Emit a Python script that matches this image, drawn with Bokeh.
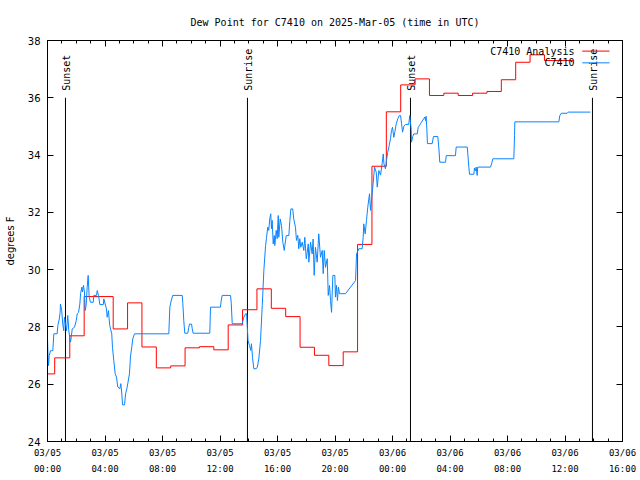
import numpy as np
import pandas as pd
from bokeh.plotting import figure
from bokeh.models import (DatetimeAxis, LinearAxis, FixedTicker, Range1d, Label,
                          DatetimeTickFormatter, ColumnDataSource, CustomJSTickFormatter)
from bokeh.core.properties import value
from bokeh.embed import file_html
from bokeh.resources import INLINE

START = pd.Timestamp("2025-03-05 00:00")
SPAN_HOURS = 40

# Analysis (hourly, step) -- hours since 2025-03-05 00:00 UTC
analysis_hours = [0.00, 0.50, 1.55, 2.55, 3.57, 4.57, 5.57, 6.57, 7.57, 8.57, 9.57, 10.57,
                  11.57, 12.57, 13.57, 14.57, 15.57, 16.57, 17.57, 18.57, 19.57, 20.57, 21.57,
                  22.57, 23.57, 24.57, 25.57, 26.57, 27.57, 28.57, 29.57, 30.57, 31.57, 32.57,
                  33.57, 34.57, 35.57, 36.57]
analysis_dewpt = [26.36, 26.92, 27.69, 29.06, 29.06, 27.93, 28.84, 27.30, 26.57, 26.64, 27.27, 27.31,
                  27.20, 28.07, 28.60, 29.33, 28.65, 28.36, 27.29, 27.01, 26.65, 27.13, 30.88,
                  33.61, 35.51, 36.45, 36.66, 36.08, 36.16, 36.08, 36.16, 36.22, 36.63, 37.24,
                  37.50, 37.30, 37.30, 37.30]

# Station observations
obs_hours = [0.00, 0.03, 0.07, 0.12, 0.21, 0.37, 0.44, 0.67, 0.72, 0.82, 0.88, 0.90, 0.99, 1.06,
             1.13, 1.18, 1.25, 1.32, 1.41, 1.48, 1.60, 1.65, 1.72, 1.88, 2.00, 2.07, 2.16, 2.25,
             2.30, 2.39, 2.43, 2.50, 2.57, 2.62, 2.69, 2.76, 2.83, 2.90, 2.99, 3.18, 3.22, 3.41,
             3.46, 3.55, 3.64, 3.88, 3.92, 4.01, 4.10, 4.15, 4.24, 4.33, 4.47, 4.52, 4.61, 4.71,
             4.80, 4.89, 5.03, 5.10, 5.17, 5.22, 5.36, 5.43, 5.52, 5.59, 5.70, 5.77, 5.86, 5.93,
             6.05, 8.44, 8.51, 8.60, 8.71, 9.37, 9.41, 9.48, 9.55, 9.76, 9.83, 9.88, 10.02, 10.07,
             10.13, 11.29, 11.34, 12.03, 12.08, 12.15, 12.73, 12.78, 12.85, 13.54, 13.66, 13.78,
             13.85, 13.90, 13.95, 14.05, 14.14, 14.19, 14.26, 14.35, 14.52, 14.60, 14.70, 14.82,
             14.94, 15.05, 15.17, 15.23, 15.32, 15.39, 15.46, 15.53, 15.58, 15.63, 15.70, 15.77,
             15.81, 15.91, 15.98, 16.05, 16.09, 16.19, 16.28, 16.37, 16.47, 16.51, 16.61, 16.79,
             16.86, 16.93, 17.06, 17.13, 17.25, 17.32, 17.41, 17.48, 17.55, 17.62, 17.72, 17.83,
             17.90, 18.00, 18.07, 18.14, 18.18, 18.30, 18.41, 18.48, 18.55, 18.64, 18.76, 18.87,
             18.99, 19.11, 19.18, 19.25, 19.34, 19.46, 19.53, 19.62, 19.69, 19.76, 19.85, 19.99,
             20.03, 20.10, 20.17, 20.24, 20.31, 20.73, 21.08, 21.43, 21.50, 21.66, 21.89, 21.96,
             22.00, 22.10, 22.19, 22.28, 22.40, 22.47, 22.56, 22.66, 22.75, 22.87, 22.94, 23.05,
             23.17, 23.29, 23.36, 23.40, 23.51, 23.58, 23.67, 23.77, 23.86, 23.93, 24.00, 24.09,
             24.16, 24.26, 24.37, 24.47, 24.56, 24.63, 24.70, 24.79, 24.90, 25.13, 25.20, 25.30,
             25.32, 25.41, 25.48, 25.72, 25.79, 25.88, 25.95, 26.25, 26.30, 26.34, 26.39, 26.43,
             26.76, 26.85, 27.15, 27.22, 27.29, 27.69, 27.74, 28.38, 28.43, 29.20, 29.24, 29.31,
             29.36, 29.66, 29.70, 29.77, 29.82, 29.89, 29.93, 30.82, 30.89, 30.98, 32.44, 32.49,
             32.51, 35.57, 35.64, 35.74, 36.15, 36.22, 37.77]
obs_dewpt = [27.60, 27.10, 26.65, 27.00, 27.17, 27.17, 27.76, 27.76, 28.05, 28.28, 28.51, 28.80, 28.57, 28.10,
             27.87, 28.34, 28.10, 27.87, 28.40, 27.87, 27.47, 27.64, 27.93, 27.99, 28.22, 28.46, 28.51, 28.80,
             29.16, 29.39, 29.22, 29.45, 29.22, 28.57, 28.75, 29.39, 29.80, 29.04, 28.86, 28.86, 29.10, 29.10,
             29.27, 29.10, 28.78, 28.78, 28.98, 28.80, 28.63, 28.34, 28.57, 28.05, 27.76, 27.29, 26.83, 26.36,
             26.25, 25.90, 25.84, 26.02, 25.66, 25.28, 25.28, 25.66, 25.84, 26.04, 26.36, 26.95, 27.29, 27.58,
             27.76, 27.76, 28.69, 28.90, 29.10, 29.10, 28.86, 28.22, 27.78, 27.78, 27.99, 28.10, 28.10, 27.93,
             27.78, 27.78, 28.69, 28.69, 28.90, 29.10, 29.10, 28.86, 28.11, 28.11, 28.34, 28.46,
             28.46, 27.99, 27.53, 27.35, 27.18, 27.41, 26.94, 26.54, 26.54, 26.60, 26.89, 27.53,
             28.75, 29.97, 30.84, 31.08, 31.48, 31.37, 31.77, 31.95, 31.43, 31.72, 30.90, 31.19,
             30.84, 31.37, 31.08, 31.89, 31.13, 31.77, 31.54, 30.96, 30.67, 30.84, 31.19, 31.19,
             31.72, 32.12, 32.12, 31.77, 31.48, 31.02, 31.20, 30.73, 31.08, 30.78, 30.96, 30.67,
             31.13, 30.38, 30.61, 30.90, 30.26, 30.96, 30.55, 31.07, 29.80, 30.78, 30.26, 31.25,
             30.43, 30.67, 29.86, 30.67, 30.08, 30.38, 29.10, 29.45, 28.92, 28.51, 29.80, 29.80,
             29.04, 29.45, 28.92, 29.39, 29.16, 29.16, 29.39, 29.62, 30.55, 30.73, 30.73, 31.13,
             31.60, 31.25, 31.72, 32.18, 32.65, 32.07, 32.53, 33.05, 33.58, 33.40, 32.88, 33.46,
             33.30, 33.75, 34.04, 33.70, 33.52, 33.81, 34.10, 34.33, 34.57, 34.86, 34.97, 34.62,
             34.80, 35.09, 35.27, 35.38, 35.38, 35.10, 34.80, 35.00, 35.07, 35.07, 35.38, 34.90,
             34.45, 34.65, 34.74, 34.74, 34.97, 35.03, 35.10, 35.33, 35.20, 35.35, 34.90, 34.40,
             34.40, 34.65, 34.65, 34.28, 33.75, 33.75, 33.98, 33.98, 34.28, 34.28, 34.04, 33.58,
             33.33, 33.33, 33.55, 33.45, 33.58, 33.29, 33.58, 33.58, 33.69, 33.87, 33.87, 34.68,
             35.16, 35.16, 35.38, 35.46, 35.46, 35.50, 35.50]

sun_event_hours = [1.25, 13.91, 25.25, 37.91]
sun_event_names = ["Sunset", "Sunrise", "Sunset", "Sunrise"]

y_ticks = [24, 26, 28, 30, 32, 34, 36, 38]
x_major_hours = list(range(0, SPAN_HOURS + 1, 4))
x_minor_hours = list(range(0, SPAN_HOURS + 1, 1))

series_names = ["C7410 Analysis", "C7410"]
series_colors = ["#ff0000", "#0a84ff"]
TITLE = "Dew Point for C7410 on 2025-Mar-05 (time in UTC)"
Y_LABEL = "degrees F"

MONO = "DejaVu Sans Mono"
SANS = "DejaVu Sans"


def to_time(hours):
    return START + pd.to_timedelta(np.asarray(hours, dtype=float), unit="h")


def to_ms(hours):
    return [(START + pd.Timedelta(hours=h)).value / 1e6 for h in hours]


t0 = START
t1 = START + pd.Timedelta(hours=SPAN_HOURS)

p = figure(width=640, height=480, x_axis_type="datetime",
           x_range=Range1d(t0, t1), y_range=Range1d(24, 38),
           output_backend="svg", toolbar_location=None,
           min_border_left=47, min_border_right=18, min_border_top=40, min_border_bottom=39)

p.background_fill_color = "white"
p.border_fill_color = "white"
p.outline_line_color = "black"
p.outline_line_alpha = 1.0
p.outline_line_width = 1
p.xgrid.visible = False
p.ygrid.visible = False

p.title.text = TITLE
p.title.align = "center"
p.title.text_font = MONO
p.title.text_font_size = "10px"
p.title.text_font_style = "normal"
p.title.text_color = "black"
p.title.standoff = 26

x_ticker = FixedTicker(ticks=to_ms(x_major_hours), minor_ticks=to_ms(x_minor_hours))
y_ticker = FixedTicker(ticks=y_ticks, minor_ticks=[])
fmt = "%m/%d\n%H:%M"
x_formatter = DatetimeTickFormatter(milliseconds=fmt, seconds=fmt, minsec=fmt, minutes=fmt,
                                    hourmin=fmt, hours=fmt, days=fmt, months=fmt, years=fmt)
blank_formatter = CustomJSTickFormatter(code="return '';")


def style_axis(ax):
    ax.axis_line_color = "black"
    ax.major_tick_line_color = "black"
    ax.minor_tick_line_color = "black"
    ax.major_tick_in = 6
    ax.major_tick_out = 0
    ax.minor_tick_in = 3
    ax.minor_tick_out = 0
    ax.major_label_text_color = "black"


xa = p.xaxis[0]
xa.ticker = x_ticker
xa.formatter = x_formatter
style_axis(xa)
xa.major_label_text_font = MONO
xa.major_label_text_font_size = "9px"
xa.major_label_text_line_height = 1.6
xa.major_label_standoff = 6

ya = p.yaxis[0]
ya.ticker = y_ticker
style_axis(ya)
ya.major_label_text_font = SANS
ya.major_label_text_font_size = "10px"
ya.major_label_standoff = 7
ya.axis_label = Y_LABEL
ya.axis_label_text_font = SANS
ya.axis_label_text_font_size = "10px"
ya.axis_label_text_font_style = "normal"
ya.axis_label_text_color = "black"
ya.axis_label_standoff = 9

top = DatetimeAxis(ticker=x_ticker, formatter=blank_formatter)
style_axis(top)
top.major_label_standoff = 0
p.add_layout(top, "above")

right = LinearAxis(ticker=y_ticker, formatter=blank_formatter)
style_axis(right)
right.major_label_standoff = 0
p.add_layout(right, "right")

# sunrise / sunset markers
sun_src = ColumnDataSource(dict(t=to_time(sun_event_hours), name=sun_event_names,
                                y0=[24] * len(sun_event_hours), y1=[36] * len(sun_event_hours)))
p.segment(x0="t", y0="y0", x1="t", y1="y1", source=sun_src, line_color="black", line_width=1)
p.text(x="t", y="y1", text="name", source=sun_src, angle=np.pi / 2, text_align="left",
       text_baseline="middle", y_offset=-7, x_offset=1, text_font=value(MONO),
       text_font_size="10px", text_color="black")

# data series
p.step(to_time(analysis_hours), analysis_dewpt, mode="after", line_color=series_colors[0], line_width=1)
p.line(to_time(obs_hours), obs_dewpt, line_color=series_colors[1], line_width=1)

# gnuplot-style key (text then sample line), top right
key_y = [37.63, 37.22]
for name, color, ky in zip(series_names, series_colors, key_y):
    p.add_layout(Label(x=START + pd.Timedelta(hours=36.66), y=ky, text=name, text_align="right",
                       text_baseline="middle", text_font=MONO, text_font_size="10px",
                       text_color="black"))
    p.segment(x0=[START + pd.Timedelta(hours=37.2)], y0=[ky],
              x1=[START + pd.Timedelta(hours=39.1)], y1=[ky], line_color=color, line_width=1)

open("out.html", "w").write(file_html(p, INLINE))
